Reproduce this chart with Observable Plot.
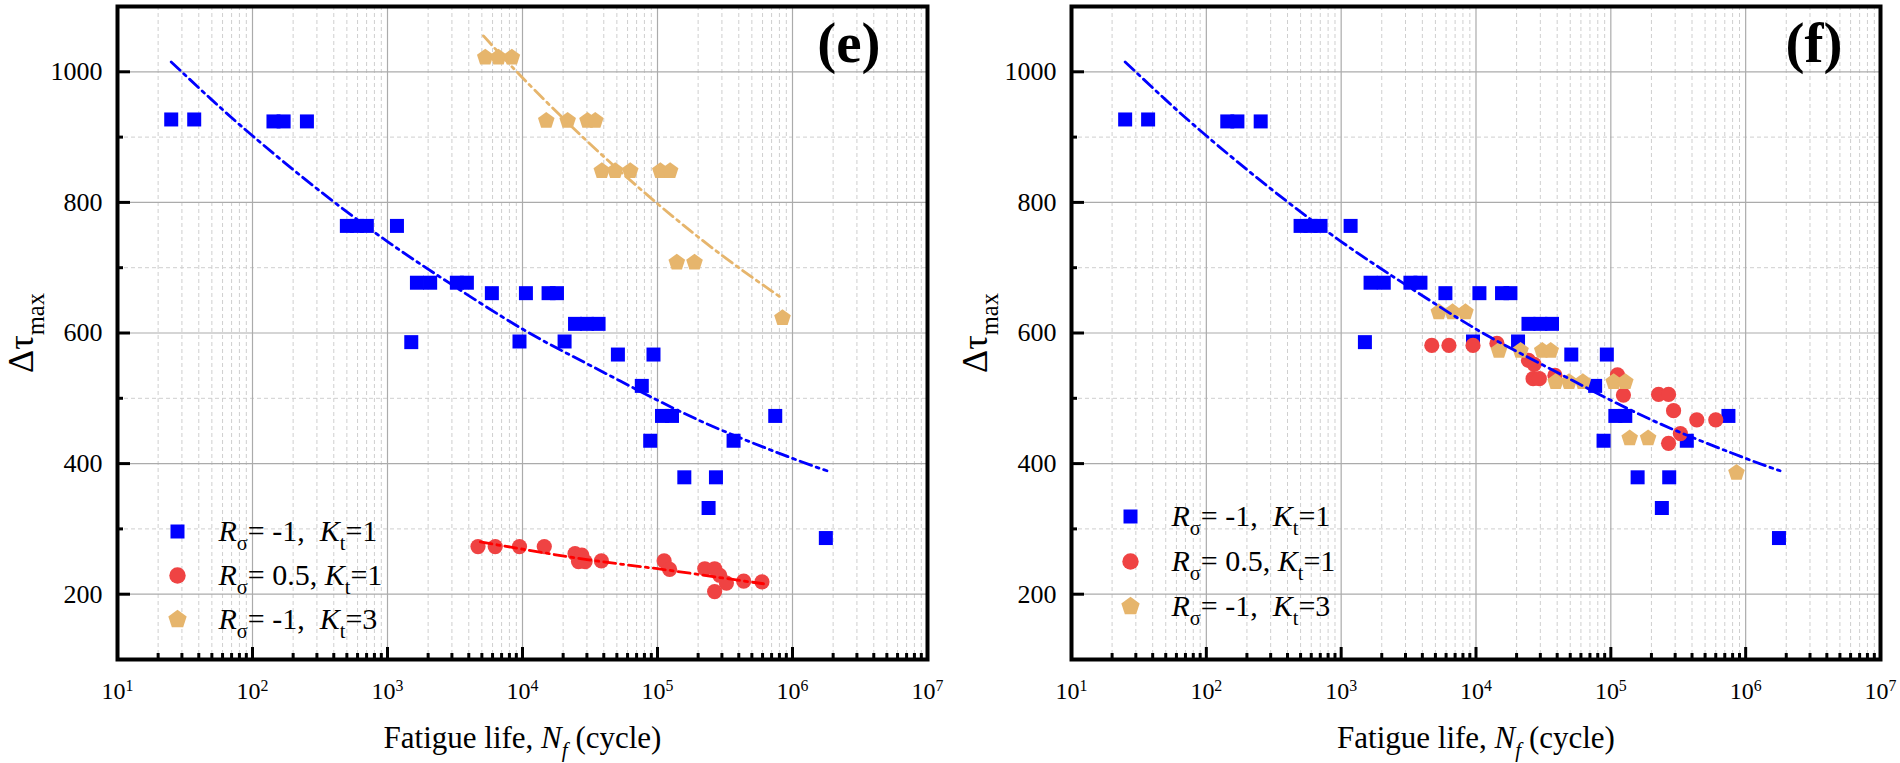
<!DOCTYPE html>
<html><head><meta charset="utf-8">
<script src="https://cdn.jsdelivr.net/npm/d3@7"></script>
<script src="https://cdn.jsdelivr.net/npm/@observablehq/plot@0.6"></script>
<style>
body{margin:0;background:#fff;}
#wrap{display:flex;width:1900px;height:763px;overflow:hidden;}
svg, svg text, svg tspan{font-family:"Liberation Serif","Times New Roman","DejaVu Serif",serif !important;}
text{white-space:pre;}
</style></head><body><div id="wrap"></div>
<script>
// ---------- data ----------
const blueN = [25,37,143,170,253,500,593,703,1175,1500,1652,2070,3263,3873,5930,9500,10600,15600,18000,20500,24500,30000,36600,50900,76500,88300,93400,108000,128000,158000,239000,271000,366000,745000,1766000];
const blueS = [927,927,924,924,924,764,764,764,764,586,677,677,677,677,661,587,661,661,661,587,614,614,614,567,519,435,567,473,473,379,332,379,435,473,286];

const redEN = [4680,6280,9500,14500,24500,27500,26000,29100,38400,112000,123000,224000,265000,289000,324000,265000,435000,594000];
const redES = [273,273,273,273,262,260,250,250,251,251,238,239,239,229,217,204,220,219];
const redFN = [4700,6300,9500,14300,24500,27000,26500,29500,38500,112000,124000,226000,268000,292000,328000,268000,434000,600000];
const redFS = [581,581,581,584,558,552,530,530,535,536,505,506,506,481,446,431,467,467];

const orangeEN = [5300,6640,8340,15000,21600,30300,34600,38700,48600,62800,105000,124000,139000,188000,843000];
const orangeES = [1022,1022,1022,925,925,925,925,848,848,848,848,848,708,708,623];
const orangeFN = [5300,6700,8350,14800,21400,31000,35800,39000,49000,62000,105000,128000,138000,189000,855000];
const orangeFS = [632,632,632,573,573,573,573,525,525,525,525,525,439,439,386];

const blueFitN = [25,50,100,300,1000,3000,10000,30000,100000,300000,1000000,1800000];
const blueFitS = [1015,957,902,821,740,674,606,553,497,451,408,389];
const orangeFitN = [5140,10000,30000,100000,300000,800000];
const orangeFitS = [1055,991,894,798,719,656];
const redFitN = [4870,10000,30000,100000,300000,610000];
const redFitS = [280,269,253,239,225,216];

const xMajor = [1e1,1e2,1e3,1e4,1e5,1e6,1e7];
const minorMult = [2,3,4,5,6,7,8,9];
const yMajor = [200,400,600,800,1000];
const yMinor = [300,500,700,900];
const xDomain = [10, 1e7];
const yDomain = [100, 1100];

const legendLabels = ["*R*_{σ}= -1,  *K*_{t}=1", "*R*_{σ}= 0.5, *K*_{t}=1", "*R*_{σ}= -1,  *K*_{t}=3"];
const xTitle = "Fatigue life, *N*_{*f*} (cycle)";
const yTitle = "Δτ_{max}";
const panelLabels = ["(e)", "(f)"];

// ---------- helpers ----------
const FONT = "'Liberation Serif','Times New Roman','DejaVu Serif',serif";
const xMinor = xMajor.slice(0,-1).flatMap(d => minorMult.map(m => d*m));
const zip = (a,b) => a.map((v,i) => ({n:v, s:b[i]}));
const BLUE = "#0000ff", RED = "#ef4343", ORANGE = "#e6b56c";
const pentagon = {draw(ctx, size){
  const r = Math.sqrt(size/Math.PI)*1.12;
  for (let i=0;i<5;i++){const a=-Math.PI/2+i*2*Math.PI/5; const x=r*Math.cos(a), y=r*Math.sin(a); i?ctx.lineTo(x,y):ctx.moveTo(x,y);}
  ctx.closePath();
}};
const dashDot = "12,5,3,5";

function richifyAll(svg){
  d3.select(svg).selectAll("text").each(function(){
    this.style.fontFamily = FONT;
    const t = this.textContent;
    if (!/[*_^]/.test(t)) return;
    const g = this.closest("[font-size]");
    const fs = parseFloat(this.getAttribute("font-size") || (g && g.getAttribute("font-size")) || 24);
    this.textContent = "";
    const re = /\*([^*]+)\*|_\{([^}]+)\}|\^\{([^}]+)\}|([^*_^]+)/g;
    let m, shift = 0;
    while ((m = re.exec(t))){
      const ts = d3.select(this).append("tspan").style("font-family", FONT);
      let target = 0, c;
      if (m[1]) { ts.text(m[1]).attr("font-style","italic"); }
      else if (m[2]) { c = m[2]; if (/^\*.*\*$/.test(c)) { c = c.slice(1,-1); ts.attr("font-style","italic"); } ts.text(c).attr("font-size", fs*0.68); target = fs*0.3; }
      else if (m[3]) { ts.text(m[3]).attr("font-size", fs*0.66); target = -fs*0.3; }
      else ts.text(m[4]);
      if (target !== shift) { ts.attr("dy", target - shift); shift = target; }
    }
  });
}

function panel(cfg){
  const W = 950, H = 763, mT = 6, mB = 104;
  const pw = W - cfg.mL - cfg.mR, ph = H - mT - mB;
  const marks = [
    Plot.ruleX(xMinor, {x: d=>d, stroke:"#cfcfcf", strokeDasharray:"4,3", strokeWidth:1}),
    Plot.ruleY(yMinor, {y: d=>d, stroke:"#cfcfcf", strokeDasharray:"4,3", strokeWidth:1}),
    Plot.ruleX(xMajor, {x: d=>d, stroke:"#ababab", strokeWidth:1.2}),
    Plot.ruleY(yMajor, {y: d=>d, stroke:"#ababab", strokeWidth:1.2}),
    Plot.ruleX(xMajor, {x: d=>d, insetTop: ph-12, stroke:"#000", strokeWidth:3}),
    Plot.ruleX(xMinor, {x: d=>d, insetTop: ph-6, stroke:"#000", strokeWidth:3}),
    Plot.ruleY(yMajor, {y: d=>d, insetRight: pw-13, stroke:"#000", strokeWidth:3}),
    Plot.ruleY(yMinor, {y: d=>d, insetRight: pw-6, stroke:"#000", strokeWidth:3}),
    Plot.dot(zip(blueN, blueS), {x:"n", y:"s", symbol:"square", r:7.9, fill:BLUE}),
    Plot.dot(cfg.red, {x:"n", y:"s", symbol:"circle", r:7.6, fill:RED}),
    Plot.dot(cfg.orange, {x:"n", y:"s", symbol:pentagon, r:7.8, fill:ORANGE}),
    ...cfg.fits.map(f => Plot.line(f.data, {x:"n", y:"s", stroke:f.color, strokeWidth:2.8, strokeDasharray:dashDot, curve:"natural"})),
    Plot.frame({stroke:"#000", strokeWidth:4}),
    Plot.text(xMajor, {x: d=>d, text: d => "10^{" + Math.round(Math.log10(d)) + "}", frameAnchor:"bottom", dy:39, lineAnchor:"bottom", fontSize:24, fontFamily:FONT}),
    Plot.text(yMajor, {y: d=>d, text: d=>String(d), frameAnchor:"left", dx:-15, textAnchor:"end", lineAnchor:"middle", fontSize:26, fontFamily:FONT}),
    Plot.text([xTitle], {frameAnchor:"bottom", dy:88, lineAnchor:"bottom", fontSize:31, fontFamily:FONT}),
    Plot.text([yTitle], {frameAnchor:"left", dx:-96, rotate:-90, lineAnchor:"middle", textAnchor:"middle", fontSize:36, fontFamily:FONT}),
    Plot.text([cfg.label], {frameAnchor:"top-right", dx:cfg.labelDx, dy:37, textAnchor:"end", lineAnchor:"middle", fontSize:57, fontWeight:"bold", fontFamily:FONT}),
  ];
  const syms = ["square","circle",pentagon], cols = [BLUE, RED, ORANGE], rs = [7.9, 8.2, 8.6];
  legendLabels.forEach((lab, i) => {
    const dy = cfg.legTop + i*cfg.legStep;
    marks.push(Plot.dot([lab], {frameAnchor:"top-left", dx:cfg.legDx, dy, symbol:syms[i], r:rs[i], fill:cols[i]}));
    marks.push(Plot.text([lab], {frameAnchor:"top-left", dx:cfg.legDx+41, dy, textAnchor:"start", lineAnchor:"middle", fontSize:30, fontFamily:FONT}));
  });
  const svg = Plot.plot({
    width: W, height: H, marginLeft: cfg.mL, marginRight: cfg.mR, marginTop: mT, marginBottom: mB,
    x: {type:"log", domain:xDomain, axis:null},
    y: {domain:yDomain, axis:null},
    style: {background:"#fff", color:"#000", overflow:"visible"},
    marks
  });
  richifyAll(svg);
  return svg;
}

const wrap = document.getElementById("wrap");
wrap.append(panel({
  mL:117, mR:23, label:panelLabels[0], labelDx:-47,
  red: zip(redEN, redES), orange: zip(orangeEN, orangeES),
  fits: [{data: zip(blueFitN, blueFitS), color: BLUE}, {data: zip(orangeFitN, orangeFitS), color: ORANGE}, {data: zip(redFitN, redFitS), color: "#ff0000"}],
  legTop:525, legStep:44, legDx:60
}));
wrap.append(panel({
  mL:121, mR:20, label:panelLabels[1], labelDx:-38,
  red: zip(redFN, redFS), orange: zip(orangeFN, orangeFS),
  fits: [{data: zip(blueFitN, blueFitS), color: BLUE}],
  legTop:510, legStep:45, legDx:59
}));
</script></body></html>
